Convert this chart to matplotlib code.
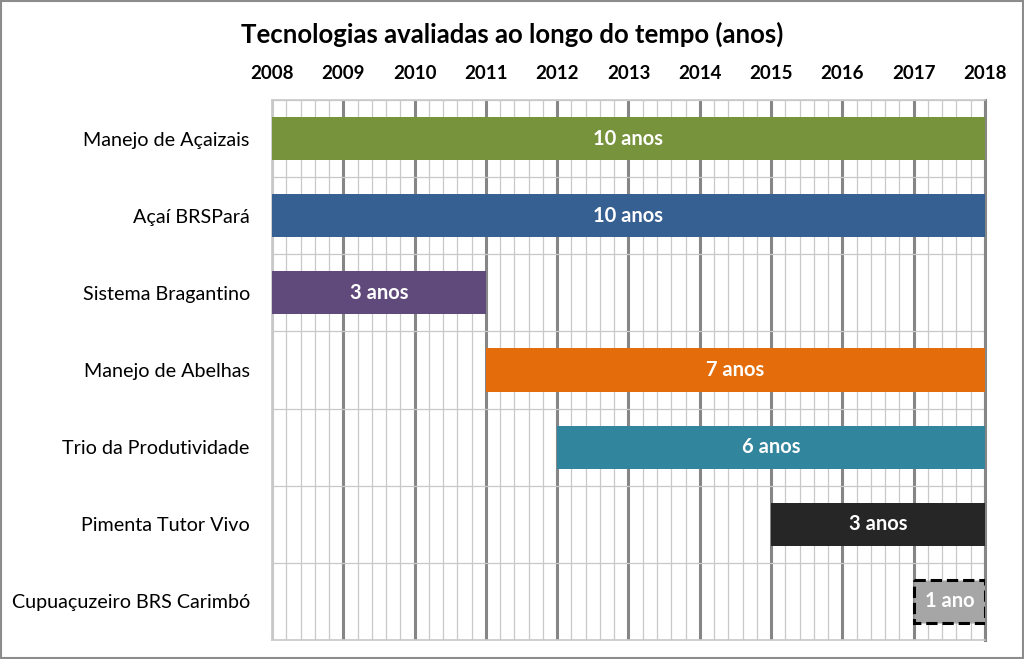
import matplotlib
matplotlib.use('Agg')
import matplotlib.pyplot as plt
from matplotlib.patches import Rectangle
import numpy as np

plt.rcParams['font.family'] = ['Lato', 'DejaVu Sans']

# dados: tecnologias e anos de início/fim
tecnologias = ["Manejo de Açaizais", "Açaí BRSPará", "Sistema Bragantino", "Manejo de Abelhas",
               "Trio da Produtividade", "Pimenta Tutor Vivo", "Cupuaçuzeiro BRS Carimbó"]
inicio = [2008, 2008, 2008, 2011, 2012, 2015, 2017]
fim = [2018, 2018, 2011, 2018, 2018, 2018, 2018]
cores = ["#77933C", "#376092", "#604A7B", "#E46C0A", "#31859C", "#262626", "#A6A6A6"]
anos = list(range(2008, 2019))

fig = plt.figure(figsize=(10.24, 6.59), dpi=100)
ax = fig.add_axes([272 / 1024, 1 - 640 / 659, 713 / 1024, 540 / 659])

y = np.arange(len(tecnologias))
duracao = [f - i for i, f in zip(inicio, fim)]

# grade
ax.set_xlim(anos[0], anos[-1])
ax.set_ylim(len(tecnologias) - 0.5, -0.5)
ax.set_xticks(anos)
ax.set_xticks(np.arange(anos[0], anos[-1] + 0.01, 0.2), minor=True)
ax.set_yticks(y)
ax.set_yticks(np.arange(-0.5, len(tecnologias), 0.5), minor=True)
ax.grid(which='minor', color='#C8C8C8', lw=0.9)
ax.grid(which='major', axis='x', color='#868686', lw=2.2)
ax.xaxis.get_gridlines()[0].set_color('#C8C8C8')
ax.set_axisbelow(True)

for s in ['top', 'bottom', 'left']:
    ax.spines[s].set_color('#C8C8C8')
    ax.spines[s].set_linewidth(1.2)
ax.spines['right'].set_color('#868686')
ax.spines['right'].set_linewidth(2.2)

# barras
for k in range(len(tecnologias)):
    ultimo = k == len(tecnologias) - 1
    ax.barh(y[k], duracao[k], left=inicio[k], height=0.56, color=cores[k],
            edgecolor='black' if ultimo else 'none', lw=2.2 if ultimo else 0,
            ls='--' if ultimo else '-', zorder=3)
    txt = "1 ano" if duracao[k] == 1 else f"{duracao[k]} anos"
    ax.text(inicio[k] + duracao[k] / 2, y[k], txt, ha='center', va='center',
            color='white', fontsize=14.5, fontweight='bold', zorder=4)

ax.xaxis.tick_top()
ax.tick_params(axis='x', which='both', length=0, pad=13, labelsize=13.5)
for lbl in ax.get_xticklabels():
    lbl.set_fontweight('bold')
ax.set_yticklabels(tecnologias, fontsize=14.2)
ax.tick_params(axis='y', which='both', length=0, pad=16)

fig.text(0.5, 0.948, "Tecnologias avaliadas ao longo do tempo (anos)", ha='center', va='center',
         fontsize=18.5, fontweight='bold')

# moldura da figura
fig.patches.append(Rectangle((0.001, 0.001), 0.998, 0.998, transform=fig.transFigure,
                             fill=False, edgecolor='#8C8C8C', lw=1.5))

plt.savefig('out.png', dpi=100)
